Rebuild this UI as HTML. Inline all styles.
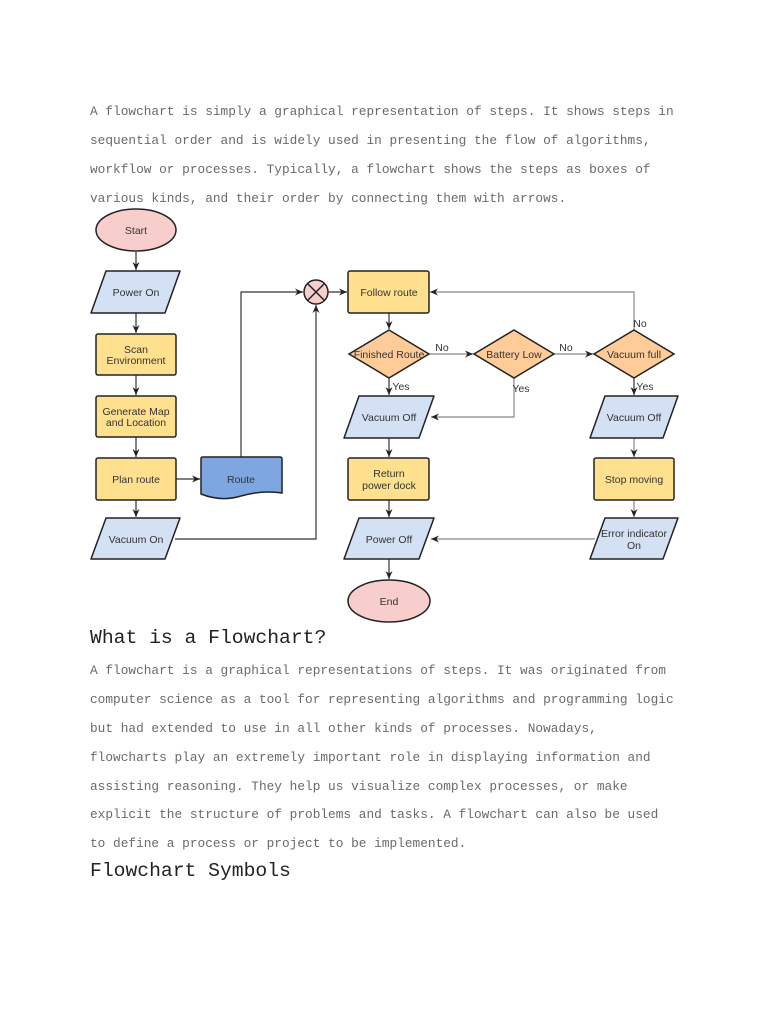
<!DOCTYPE html>
<html><head><meta charset="utf-8"><style>
html,body{margin:0;padding:0;background:#fff;width:768px;height:1024px;overflow:hidden}
.t{position:absolute;left:90px;font-family:"Liberation Mono",monospace;font-size:12.8px;color:#6a6a6a;white-space:pre;line-height:16px}
.h{position:absolute;left:90px;font-family:"Liberation Mono",monospace;font-size:19.7px;color:#222;white-space:pre}
svg{position:absolute;left:0;top:0}
svg text{font-family:"Liberation Sans",sans-serif;font-size:10.5px;fill:#333;text-anchor:middle}
</style></head><body>
<div class="t" style="top:104px">A flowchart is simply a graphical representation of steps. It shows steps in</div>
<div class="t" style="top:133px">sequential order and is widely used in presenting the flow of algorithms,</div>
<div class="t" style="top:162px">workflow or processes. Typically, a flowchart shows the steps as boxes of</div>
<div class="t" style="top:191px">various kinds, and their order by connecting them with arrows.</div>

<div class="h" style="top:627px">What is a Flowchart?</div>
<div class="t" style="top:663px">A flowchart is a graphical representations of steps. It was originated from</div>
<div class="t" style="top:692px">computer science as a tool for representing algorithms and programming logic</div>
<div class="t" style="top:721px">but had extended to use in all other kinds of processes. Nowadays,</div>
<div class="t" style="top:750px">flowcharts play an extremely important role in displaying information and</div>
<div class="t" style="top:779px">assisting reasoning. They help us visualize complex processes, or make</div>
<div class="t" style="top:807px">explicit the structure of problems and tasks. A flowchart can also be used</div>
<div class="t" style="top:836px">to define a process or project to be implemented.</div>
<div class="h" style="top:860px">Flowchart Symbols</div>

<svg width="768" height="1024" viewBox="0 0 768 1024">
<defs><marker id="a" markerWidth="10" markerHeight="10" refX="8" refY="5" orient="auto" markerUnits="userSpaceOnUse"><path d="M0,1.5 L8,5 L0,8.5 L2.5,5z" fill="#222"/></marker></defs>
<g stroke="#333" stroke-width="1.2" fill="none">
<line x1="136" y1="252" x2="136" y2="270" marker-end="url(#a)"/>
<line x1="136" y1="313" x2="136" y2="333" marker-end="url(#a)"/>
<line x1="136" y1="375" x2="136" y2="395" marker-end="url(#a)"/>
<line x1="136" y1="437" x2="136" y2="457" marker-end="url(#a)"/>
<line x1="136" y1="500" x2="136" y2="517" marker-end="url(#a)"/>
<line x1="176" y1="479" x2="200" y2="479" marker-end="url(#a)"/>
<polyline points="241,457 241,292 303,292" marker-end="url(#a)"/>
<polyline points="175,539 316,539 316,305" marker-end="url(#a)"/>
<line x1="328" y1="292" x2="347" y2="292" marker-end="url(#a)"/>
<line x1="389" y1="313" x2="389" y2="329" marker-end="url(#a)"/>
<line x1="429" y1="354" x2="473" y2="354" stroke="#888" marker-end="url(#a)"/>
<line x1="554" y1="354" x2="593" y2="354" stroke="#888" marker-end="url(#a)"/>
<polyline points="634,330 634,292 430,292" stroke="#888" marker-end="url(#a)"/>
<line x1="389" y1="378" x2="389" y2="395" marker-end="url(#a)"/>
<polyline points="514,378 514,417 431,417" stroke="#888" marker-end="url(#a)"/>
<line x1="634" y1="378" x2="634" y2="395" marker-end="url(#a)"/>
<line x1="389" y1="438" x2="389" y2="457" marker-end="url(#a)"/>
<line x1="634" y1="438" x2="634" y2="457" stroke="#888" marker-end="url(#a)"/>
<line x1="389" y1="500" x2="389" y2="517" marker-end="url(#a)"/>
<line x1="634" y1="500" x2="634" y2="517" stroke="#888" marker-end="url(#a)"/>
<line x1="595" y1="539" x2="431" y2="539" stroke="#888" marker-end="url(#a)"/>
<line x1="389" y1="559" x2="389" y2="579" marker-end="url(#a)"/>
</g>
<g stroke="#222" stroke-width="1.5">
<ellipse cx="136" cy="230" rx="40" ry="21" fill="#f8cecc"/>
<path d="M106,271 L180,271 L165,313 L91,313Z" fill="#d4e1f5" stroke-linejoin="round"/>
<rect x="96" y="334" width="80" height="41" rx="2" fill="#ffe08f"/>
<rect x="96" y="396" width="80" height="41" rx="2" fill="#ffe08f"/>
<rect x="96" y="458" width="80" height="42" rx="2" fill="#ffe08f"/>
<path d="M106,518 L180,518 L165,559 L91,559Z" fill="#d4e1f5" stroke-linejoin="round"/>
<path d="M201,459 Q201,457 203,457 L280,457 Q282,457 282,459 L282,493 Q262,490 241,496 Q221,502 201,494Z" fill="#7ea6e0"/>
<circle cx="316" cy="292" r="12" fill="#f8cecc"/>
<path d="M308,284 L324,300 M324,284 L308,300" fill="none"/>
<rect x="348" y="271" width="81" height="42" rx="2" fill="#ffe08f"/>
<path d="M389,330 L429,354 L389,378 L349,354Z" fill="#ffcc99"/>
<path d="M514,330 L554,354 L514,378 L474,354Z" fill="#ffcc99"/>
<path d="M634,330 L674,354 L634,378 L594,354Z" fill="#ffcc99"/>
<path d="M359,396 L434,396 L419,438 L344,438Z" fill="#d4e1f5" stroke-linejoin="round"/>
<path d="M605,396 L678,396 L663,438 L590,438Z" fill="#d4e1f5" stroke-linejoin="round"/>
<rect x="348" y="458" width="81" height="42" rx="2" fill="#ffe08f"/>
<rect x="594" y="458" width="80" height="42" rx="2" fill="#ffe08f"/>
<path d="M359,518 L434,518 L419,559 L344,559Z" fill="#d4e1f5" stroke-linejoin="round"/>
<path d="M605,518 L678,518 L663,559 L590,559Z" fill="#d4e1f5" stroke-linejoin="round"/>
<ellipse cx="389" cy="601" rx="41" ry="21" fill="#f8cecc"/>
</g>
<text x="136" y="234">Start</text>
<text x="136" y="296">Power On</text>
<text x="136" y="353">Scan</text>
<text x="136" y="364">Environment</text>
<text x="136" y="415">Generate Map</text>
<text x="136" y="426">and Location</text>
<text x="136" y="483">Plan route</text>
<text x="136" y="543">Vacuum On</text>
<text x="241" y="483">Route</text>
<text x="389" y="296">Follow route</text>
<text x="389" y="358">Finished Route</text>
<text x="514" y="358">Battery Low</text>
<text x="634" y="358">Vacuum full</text>
<text x="442" y="351">No</text>
<text x="566" y="351">No</text>
<text x="640" y="327">No</text>
<text x="401" y="390">Yes</text>
<text x="521" y="392">Yes</text>
<text x="645" y="390">Yes</text>
<text x="389" y="421">Vacuum Off</text>
<text x="634" y="421">Vacuum Off</text>
<text x="389" y="477">Return</text>
<text x="389" y="489">power dock</text>
<text x="634" y="483">Stop moving</text>
<text x="389" y="543">Power Off</text>
<text x="634" y="537">Error indicator</text>
<text x="634" y="549">On</text>
<text x="389" y="605">End</text>
</svg>
</body></html>
